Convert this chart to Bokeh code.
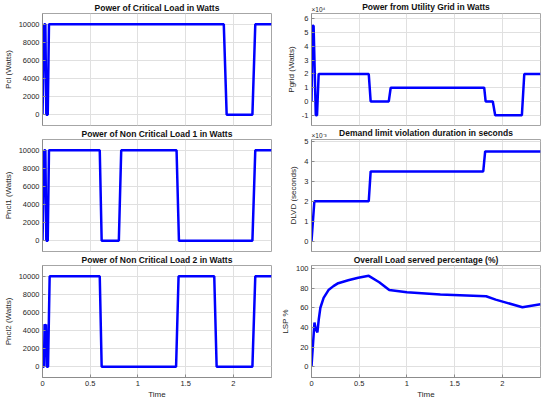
from bokeh.plotting import figure
from bokeh.layouts import gridplot
from bokeh.models import FixedTicker, CustomJSTickFormatter, Range1d, Title
from bokeh.embed import file_html
from bokeh.resources import INLINE

# ---- data ----
t_pcl = [0, 0.018, 0.030, 0.040, 0.055, 0.068, 1.90, 1.93, 2.20, 2.23, 2.40]
pcl = [0, 10000, 10000, 0, 0, 10000, 10000, 0, 0, 10000, 10000]

t_pnl1 = [0, 0.018, 0.030, 0.040, 0.055, 0.068, 0.60, 0.62, 0.80, 0.825, 1.405, 1.43, 2.20, 2.23, 2.40]
pnl1 = [0, 10000, 10000, 0, 0, 10000, 10000, 0, 0, 10000, 10000, 0, 0, 10000, 10000]

t_pnl2 = [0, 0.015, 0.022, 0.030, 0.037, 0.045, 0.058, 0.075, 0.60, 0.62, 1.40, 1.426, 1.80, 1.825, 2.20, 2.23, 2.40]
pnl2 = [0, 0, 4700, 4400, 4700, 0, 0, 10000, 10000, 0, 0, 10000, 10000, 0, 0, 10000, 10000]

t_pgrid = [0, 0.012, 0.022, 0.045, 0.058, 0.075, 0.60, 0.62, 0.81, 0.83, 1.81, 1.825, 1.90, 1.925, 2.205, 2.23, 2.40]
pgrid = [0, 55000, 55000, -10000, -10000, 20000, 20000, 0, 0, 10000, 10000, 0, 0, -10000, -10000, 20000, 20000]

t_dlvd = [0, 0.030, 0.60, 0.62, 1.80, 1.82, 2.40]
dlvd = [0, 0.002, 0.002, 0.0035, 0.0035, 0.0045, 0.0045]

t_lsp = [0, 0.031, 0.045, 0.062, 0.076, 0.093, 0.127, 0.178, 0.23, 0.28, 0.385, 0.49, 0.60,
         0.71, 0.815, 1.0, 1.35, 1.83, 1.93, 2.21, 2.40]
lsp = [0, 45, 38, 35, 48, 60, 70, 78, 82, 85, 88, 90.5, 92.5,
       86, 78, 75.7, 73.5, 71.7, 68.3, 60.5, 63.5]

x_ticks = [0, 0.5, 1, 1.5, 2]
load_ticks = [0, 2000, 4000, 6000, 8000, 10000]
pgrid_ticks = [-10000, 0, 10000, 20000, 30000, 40000, 50000, 60000]
dlvd_ticks = [0, 0.001, 0.002, 0.003, 0.004, 0.005]
lsp_ticks = [0, 20, 40, 60, 80, 100]

FONT = "Liberation Sans"
BLUE = "#0000ff"
TXT = "#262626"
FRAME_H = 112
TOP = 13
BOT_LAST = 24


def make(title, ylabel, xs, ys, yr, yticks, bottom_row, yfmt=None, width=276, mbl=37, mbr=5):
    bot = BOT_LAST if bottom_row else 1
    p = figure(width=width, height=TOP + FRAME_H + bot, output_backend="svg", toolbar_location=None,
               x_range=Range1d(0, 2.4), y_range=Range1d(*yr),
               min_border_left=mbl, min_border_right=mbr, min_border_top=TOP,
               min_border_bottom=bot)
    p.title.text = title
    p.title.text_font = FONT
    p.title.text_font_size = "8.5px"
    p.title.text_font_style = "bold"
    p.title.text_color = "#111111"
    p.title.align = "center"
    p.title.standoff = 1
    p.line(xs, ys, line_color=BLUE, line_width=2.5)
    p.xaxis.ticker = FixedTicker(ticks=x_ticks)
    p.yaxis.ticker = FixedTicker(ticks=yticks)
    p.xaxis.formatter = CustomJSTickFormatter(code="return tick.toString()")
    if yfmt is not None:
        p.yaxis.formatter = CustomJSTickFormatter(code=yfmt)
    for ax in (p.xaxis, p.yaxis):
        ax.major_tick_in = 3
        ax.major_tick_out = 0
        ax.minor_tick_line_color = None
        ax.axis_line_color = "#8c8c8c"
        ax.major_tick_line_color = "#8c8c8c"
        ax.major_label_text_font = FONT
        ax.major_label_text_font_size = "7.5px"
        ax.major_label_text_color = TXT
        ax.major_label_standoff = 3
        ax.axis_label_text_font = FONT
        ax.axis_label_text_font_size = "8px"
        ax.axis_label_text_font_style = "normal"
        ax.axis_label_text_color = TXT
        ax.axis_label_standoff = 3
    p.yaxis.axis_label = ylabel
    if bottom_row:
        p.xaxis.axis_label = "Time"
        p.xaxis.axis_label_standoff = 1
    else:
        p.xaxis.visible = False
    p.grid.grid_line_color = "#e0e0e0"
    p.grid.grid_line_width = 1
    p.outline_line_color = "#a6a6a6"
    p.background_fill_color = "white"
    p.border_fill_color = "white"
    return p


p1 = make("Power of Critical Load in Watts", "Pcl (Watts)", t_pcl, pcl, (-1200, 11200), load_ticks, False)
p3 = make("Power of Non Critical Load 1 in Watts", "Pncl1 (Watts)", t_pnl1, pnl1, (-1200, 11200), load_ticks, False)
p5 = make("Power of Non Critical Load 2 in Watts", "Pncl2 (Watts)", t_pnl2, pnl2, (-1200, 11200), load_ticks, True)

p2 = make("Power from Utility Grid in Watts", "Pgrid (Watts)", t_pgrid, pgrid, (-17500, 64000), pgrid_ticks, False,
          yfmt="return Math.round(tick/1e4).toString()", width=266, mbl=35, mbr=2)
p4 = make("Demand limit violation duration in seconds", "DLVD (seconds)", t_dlvd, dlvd, (-0.00052, 0.0051), dlvd_ticks, False,
          yfmt="return Math.round(tick*1000).toString()", width=266, mbl=35, mbr=2)
p6 = make("Overall Load served percentage (%)", "LSP %", t_lsp, lsp, (-11, 103), lsp_ticks, True,
          width=266, mbl=35, mbr=2)

# axis exponent notes (MATLAB style), just above the frame's top-left corner;
# the main title is pulled back down so it stays level with the left column
for pp, txt in ((p2, "×10⁴"), (p4, "×10⁻³")):
    pp.add_layout(Title(text=txt, align="left", text_font=FONT, text_font_size="6.5px",
                        text_font_style="normal", text_color=TXT, standoff=2), "above")
    pp.title.standoff = -18

grid = gridplot([[p1, p2], [p3, p4], [p5, p6]], toolbar_location=None)

open("out.html", "w").write(file_html(grid, INLINE))
